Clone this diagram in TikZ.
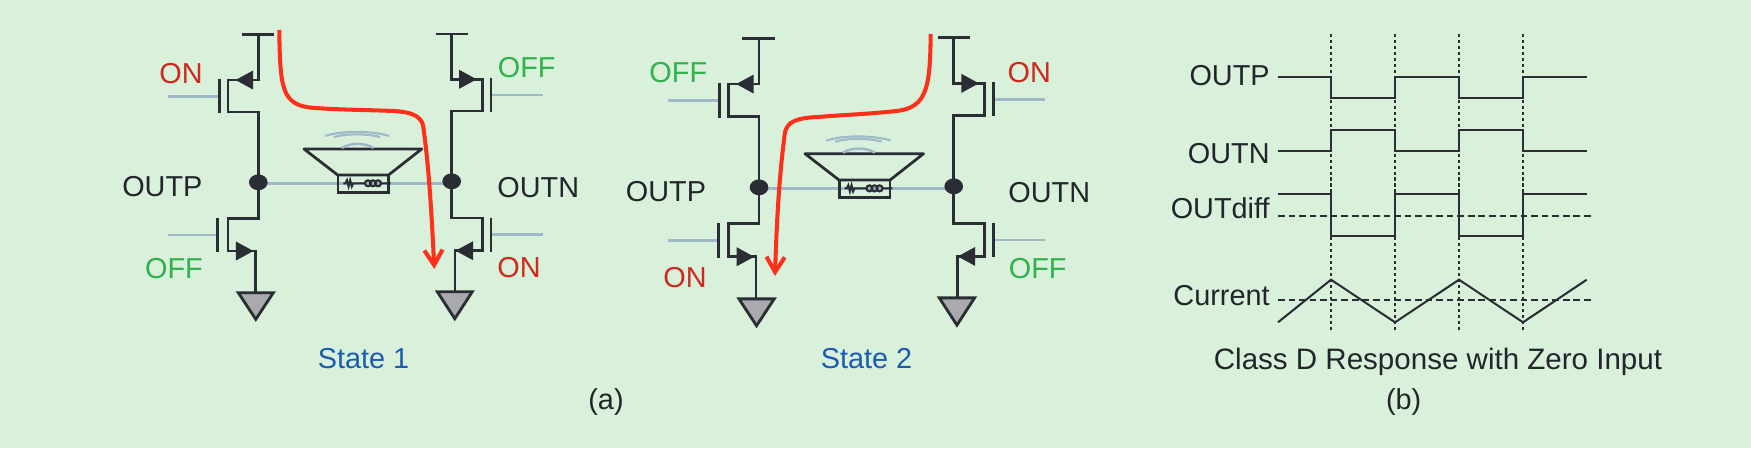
\documentclass[tikz,border=0pt]{standalone}
\usepackage{fontspec}
\setmainfont{Liberation Sans}
\usetikzlibrary{arrows.meta,shapes.geometric}
\definecolor{fondo}{HTML}{D9F0DB}
\definecolor{tinta}{HTML}{2A2D33}
\definecolor{texto}{HTML}{22252A}
\definecolor{hilo}{HTML}{A0B9C9}
\definecolor{masa}{HTML}{A9A9AE}
\definecolor{rojo}{HTML}{FF3019}
\definecolor{onc}{HTML}{CC2A1C}
\definecolor{offc}{HTML}{2FB24C}
\definecolor{azulo}{HTML}{1A5CB0}
\tikzset{wire/.style={draw=tinta,line width=.78pt},
         gateline/.style={draw=hilo,line width=.75pt},
         mostip/.style={draw=tinta,line width=.78pt,-{Triangle[length=5pt,width=5.2pt]}},
         gnd/.style={draw=tinta,fill=masa,line width=.8pt,line join=miter},
         dot/.style={ellipse,fill=tinta,minimum width=5.3pt,minimum height=4.5pt,inner sep=0},
         cur/.style={draw=rojo,line width=1.15pt,-{Straight Barb[length=4.3pt,width=5.2pt]}},
         sig/.style={draw=tinta,line width=.58pt},
         tick/.style={draw=tinta,line width=.5pt,dash pattern=on .9pt off .8pt},
         zero/.style={draw=tinta,line width=.55pt,dash pattern=on 1.9pt off 1.1pt},
         l/.style={font=\fontsize{8.2}{9.8}\selectfont,text=texto,inner sep=0},
         lr/.style={l,anchor=east}}
\begin{document}
\begin{tikzpicture}[x=.01cm,y=-.01cm]
  \fill[fondo] (0,0) rectangle (1751,448);
  \useasboundingbox (0,0) rectangle (1751,448);
  % the two bridges
  \foreach \st/\sx/\sy/\kx/\ky in {a/0/0/1/1,b/499/3.26/1.0067/1.0098} {
    \begin{scope}[shift={(\sx,\sy)},xscale=\kx,yscale=\ky]
      \coordinate (\st vl) at (258.3,34.7);
      \coordinate (\st ul) at (228,80);
      \coordinate (\st ub) at (228,112);
      \coordinate (\st ll) at (228,218.3);
      \coordinate (\st ld) at (228,251);
      \coordinate (\st gl) at (255.3,292.7);
      \coordinate (\st vr) at (451.7,34);
      \coordinate (\st ur) at (482.3,79.3);
      \coordinate (\st ue) at (482.3,111);
      \coordinate (\st lr) at (482.3,218);
      \coordinate (\st le) at (482.3,250.7);
      \coordinate (\st gr) at (455,291.7);
      \coordinate (\st wl) at (258.3,183.3);
      \coordinate (\st wr) at (451.7,183.3);
      \draw[gateline] (\st wl) -- (\st wr);
      \node[dot] (\st dl) at (258.3,182.3) {};
      \node[dot] (\st dr) at (451.7,181.3) {};
      % gates
      \foreach \n/\bx/\by/\fx in {a/219.3/96.3/168,b/217.7/235/168,c/491/95/542.7,d/491/234.5/542.7} {
        \coordinate (\st g\n) at (\bx,\by);
        \coordinate (\st f\n) at (\fx,\by);
        \draw[gateline] (\st f\n) -- (\st g\n);
        \draw[wire] (\st g\n) ++(0,-17) -- ++(0,34);
      }
      % rails and channels
      \draw[wire] (\st vl) ++(-16.5,0) -- ++(32.5,0);
      \draw[wire] (\st vr) ++(-16,0) -- ++(32.5,0);
      \draw[wire] (\st vl) |- (\st ul) -- (\st ub) -| (\st dl.center);
      \draw[wire] (\st dl.center) |- (\st ll) -- (\st ld) -| (\st gl);
      \draw[wire] (\st vr) |- (\st ur) -- (\st ue) -| (\st dr.center);
      \draw[wire] (\st dr.center) |- (\st lr) -- (\st le) -| (\st gr);
      \coordinate (\st ta) at (235.5,80);
      \coordinate (\st tb) at (253.5,251);
      \coordinate (\st tc) at (476.7,79.3);
      \coordinate (\st td) at (455.5,250.7);
      \draw[mostip] (\st vl |- \st ul) -- (\st ta);
      \draw[mostip] (\st ld) -- (\st tb);
      \draw[mostip] (\st vr |- \st ur) -- (\st tc);
      \draw[mostip] (\st le) -- (\st td);
      \draw[gnd] (\st gl) ++(-17,0) -- ++(35,0) -- ++(-17.5,26.6) -- cycle;
      \draw[gnd] (\st gr) ++(-17.7,0) -- ++(35,0) -- ++(-17.5,27) -- cycle;
      % speaker
      \draw[wire,line join=round] (304,149) -- (421.7,149) -- (388.5,175) -- (337.7,175) -- cycle;
      \node[draw=tinta,line width=.78pt,minimum width=14.4pt,minimum height=4.9pt,inner sep=0] (\st box) at (363.2,183.6) {};
      \draw[tinta,line width=.6pt] (343.3,183.3) -- (345.5,183.3) -- (347,180.3) -- (348.6,186.3)
        -- (350.2,180.3) -- (351.8,186.3) -- (353.2,183.3) -- (365,183.3) (381,183.3) -- (390.7,183.3);
      \foreach \c in {368,373,378} \draw[tinta,line width=.6pt] (\c,183.3) circle (3);
      \draw[gateline,line width=.6pt] (325,136) .. controls (342,130.5) and (372,130.5) .. (389,136);
      \draw[gateline,line width=.6pt] (334,137) .. controls (346,133.5) and (368,133.5) .. (380,137);
      \draw[gateline,line width=.7pt] (341.7,148) .. controls (350,142.5) and (365,142.5) .. (373.5,148);
    \end{scope}
  }
  % current paths
  \coordinate (rtopa) at (279.3,30);
  \coordinate (rtipa) at (434.3,269);
  \draw[cur] (rtopa) .. controls (280,90) and (282,106) .. (315,108)
    .. controls (345,110) and (370,110) .. (385,110.7)
    .. controls (410,111) and (420,115) .. (423,125)
    .. controls (428,160) and (431,200) .. (rtipa);
  \coordinate (rtopb) at (930.7,34);
  \coordinate (rtipb) at (775,276);
  \draw[cur] (rtopb) .. controls (930,85) and (928,108) .. (896,111)
    .. controls (870,114) and (840,115) .. (818,117)
    .. controls (795,118) and (788,122) .. (785,132)
    .. controls (780,170) and (777,210) .. (rtipb);
  % labels of the bridges
  \node[l,text=onc] (ona) at (181,73.3) {ON};
  \node[l,text=offc] (offa) at (174,268.3) {OFF};
  \node[l,text=offc] (offb) at (526.7,67.7) {OFF};
  \node[l,text=onc] (onb) at (519,267.7) {ON};
  \node[l] (outpa) at (162.3,186.7) {OUTP};
  \node[l] (outna) at (538.3,187.7) {OUTN};
  \node[l,text=offc] (offc) at (678.3,72.7) {OFF};
  \node[l,text=onc] (onc) at (685,277.3) {ON};
  \node[l,text=onc] (ond) at (1029.3,72.7) {ON};
  \node[l,text=offc] (offd) at (1037.7,269) {OFF};
  \node[l] (outpb) at (666,191.7) {OUTP};
  \node[l] (outnb) at (1049.3,192.7) {OUTN};
  \node[l,text=azulo] (sta) at (363.5,358.5) {State 1};
  \node[l,text=azulo] (stb) at (866.6,358.5) {State 2};
  \node[l] (capa) at (606,402) {(a)};
  \node[l] (capb) at (1403.7,402) {(b)};
  % timing
  \foreach \x in {1331,1395,1459,1523} \draw[tick] (\x,34) -- (\x,331.7);
  \draw[zero] (1278,215.7) -- (1592.7,215.7);
  \draw[zero] (1278,300.3) -- (1592.7,300.3);
  \draw[sig] (1278,76.7) -| (1331,97.7) -| (1395,76.7) -| (1459,97.7) -| (1523,76.7) -- (1586.7,76.7);
  \draw[sig] (1278,151) -| (1331,129.7) -| (1395,151) -| (1459,129.7) -| (1523,151) -- (1586.7,151);
  \draw[sig] (1278,194) -| (1331,236.3) -| (1395,194) -| (1459,236.3) -| (1523,194) -- (1586.7,194);
  \draw[sig] (1278,322.3) -- (1331,279.7) -- (1395,322.3) -- (1459,279.7) -- (1523,322.3) -- (1586.7,279.7);
  \node[lr] (lbp) at (1270.3,76) {OUTP};
  \node[lr] (lbn) at (1270.3,153.7) {OUTN};
  \node[lr] (lbd) at (1270.3,208.3) {OUTdiff};
  \node[lr] (lbc) at (1270.3,296) {Current};
  \node[l,font=\fontsize{8.4}{10}\selectfont] (capc) at (1438,362) {Class D Response with Zero Input};
\end{tikzpicture}
\end{document}
